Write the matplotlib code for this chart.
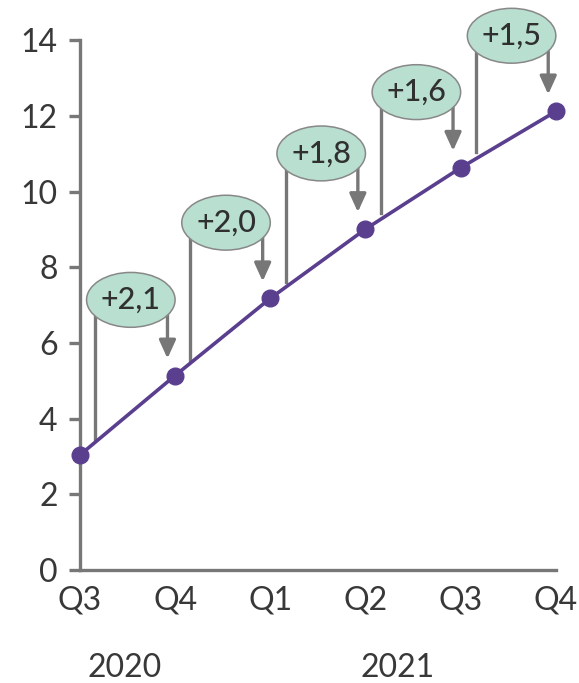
import numpy as np
import matplotlib.pyplot as plt
from matplotlib.patches import Ellipse

plt.rcParams['font.family'] = ['Lato', 'DejaVu Sans']

# quarterly values
quarters = ['Q3', 'Q4', 'Q1', 'Q2', 'Q3', 'Q4']
values = [3.04, 5.14, 7.18, 9.01, 10.63, 12.12]
years = ['2020', '2021']
year_pos = [0.47, 3.34]

purple = '#5b3f8f'
gray = '#777777'
txt = '#383838'
bubble = '#b8dfcf'

x = np.arange(len(values))

fig = plt.figure(figsize=(5.79, 6.83), dpi=100)
ax = fig.add_axes([0.138, 0.1654, 0.822, 0.7756])

ax.plot(x, values, color=purple, lw=2.6, marker='o', ms=12, zorder=5,
        clip_on=False)

# step brackets with the change between quarters
for i in range(len(values) - 1):
    start, end = values[i], values[i + 1]
    diff = end - start
    cy = end + 2.0
    lx = x[i] + 0.16
    rx = x[i] + 0.92
    ax.plot([lx, lx], [start + 0.42, cy], color=gray, lw=2.4, zorder=2,
            clip_on=False)
    arr = ax.annotate('', xy=(rx, end + 0.45), xytext=(rx, cy),
                      arrowprops=dict(arrowstyle='-|>,head_length=1.1,head_width=0.5',
                                      color=gray, lw=2.4, shrinkA=0, shrinkB=0),
                      zorder=2, annotation_clip=False)
    arr.arrow_patch.set_clip_on(False)
    ax.add_patch(Ellipse((x[i] + 0.535, cy), 0.93, 1.45, facecolor=bubble,
                         edgecolor='#888888', lw=1.1, zorder=3, clip_on=False))
    label = '+' + f'{diff:.1f}'.replace('.', ',')
    ax.text(x[i] + 0.535, cy, label, ha='center', va='center',
            fontsize=22, fontweight='medium', color='#303030', zorder=4,
            clip_on=False)

ax.set_xlim(0, 5)
ax.set_ylim(0, 14)
ax.set_xticks(x)
ax.set_xticklabels(quarters)
ax.set_yticks(range(0, 15, 2))

for s in ['top', 'right']:
    ax.spines[s].set_visible(False)
for s in ['left', 'bottom']:
    ax.spines[s].set_color(gray)
    ax.spines[s].set_linewidth(2.4)
ax.spines['left'].set_bounds(0, 14)

ax.tick_params(axis='y', length=8, width=2.4, color=gray, labelsize=23,
               labelcolor=txt, pad=8)
ax.tick_params(axis='x', length=0, labelsize=23, labelcolor=txt, pad=11)

for yr, xp in zip(years, year_pos):
    ax.text(xp, -0.185, yr, transform=ax.get_xaxis_transform(),
            ha='center', va='center', fontsize=23, color=txt)

fig.savefig('out.png', dpi=100)
